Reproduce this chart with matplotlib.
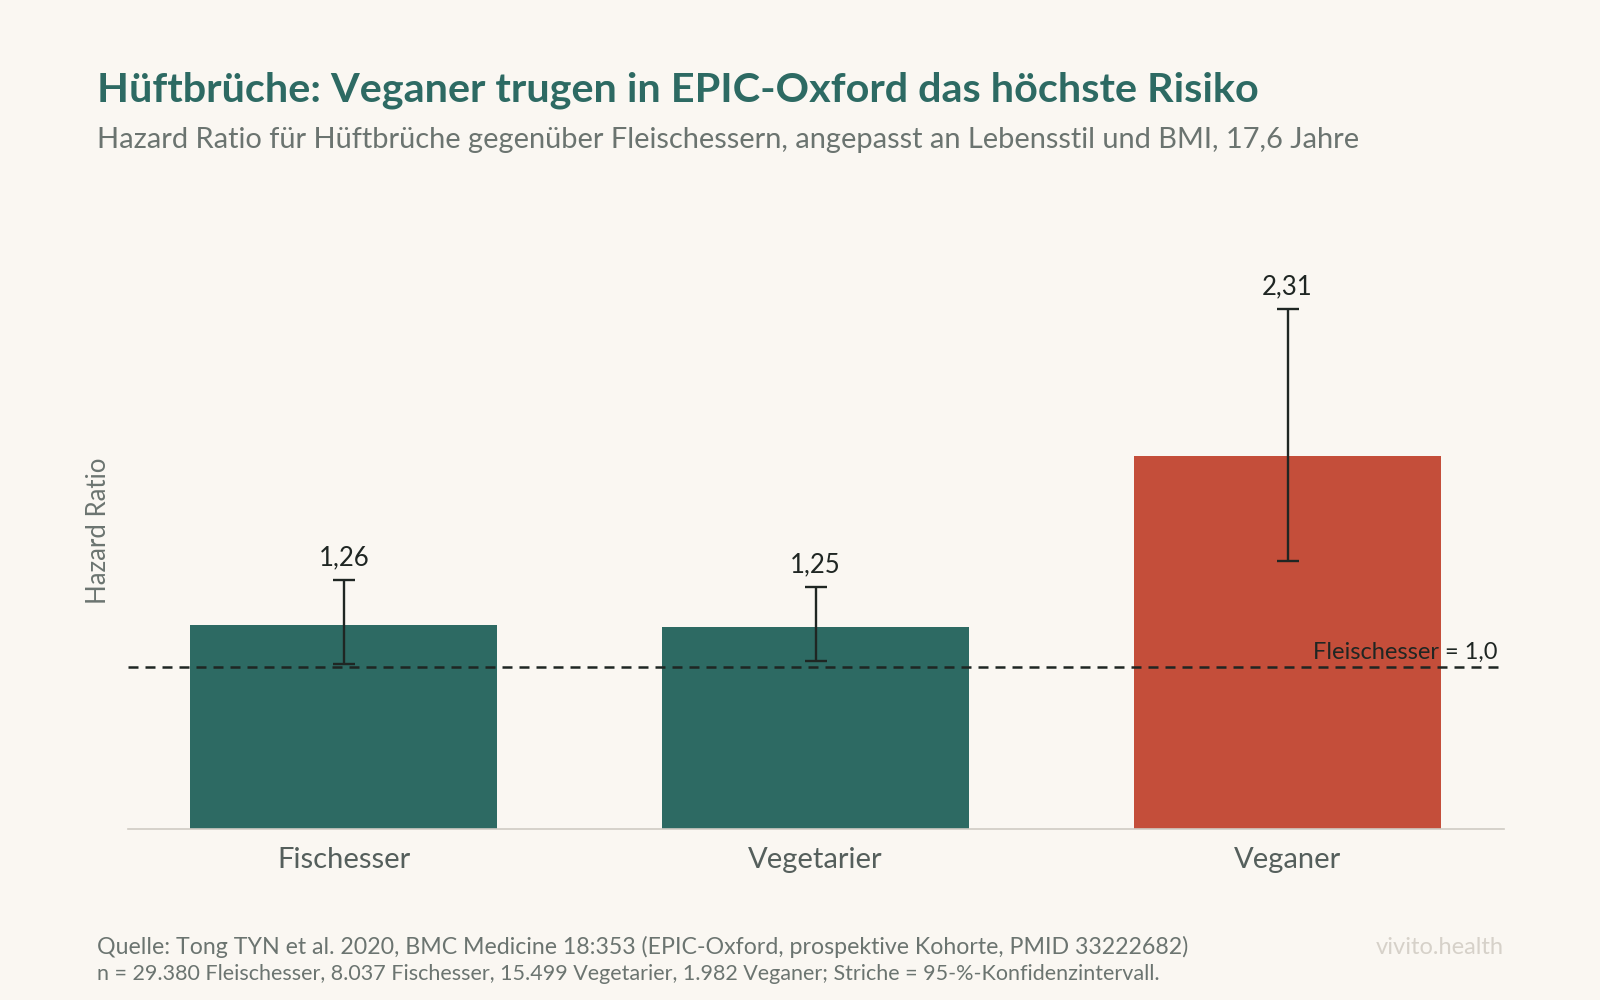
import numpy as np
import matplotlib.pyplot as plt

plt.rcParams['font.family'] = ['Lato', 'DejaVu Sans']

# Daten: Tong TYN et al. 2020, EPIC-Oxford
gruppen = ['Fischesser', 'Vegetarier', 'Veganer']
hr = [1.26, 1.25, 2.31]
ci_low = [1.02, 1.04, 1.66]
ci_high = [1.54, 1.50, 3.22]
hr_labels = ['1,26', '1,25', '2,31']

bg = '#faf7f2'
teal = '#2d6a63'
red = '#c44e3a'
dark = '#1f2623'
grey = '#6b7470'

fig = plt.figure(figsize=(16, 10), dpi=100, facecolor=bg)
ax = fig.add_axes([0.0798, 0.1714, 0.860, 0.5965])
ax.set_facecolor(bg)

x = np.arange(len(gruppen))
colors = [teal, teal, red]
ax.bar(x, hr, width=0.65, color=colors, zorder=2)

err = [np.array(hr) - np.array(ci_low), np.array(ci_high) - np.array(hr)]
ax.errorbar(x, hr, yerr=err, fmt='none', ecolor=dark, elinewidth=1.7,
            capsize=8, capthick=1.7, zorder=3)

for xi, top, lab in zip(x, ci_high, hr_labels):
    ax.annotate(lab, (xi, top), xytext=(0, 7), textcoords='offset points',
                ha='center', va='bottom', fontsize=18.5, color=dark)

ax.axhline(1.0, color=dark, linestyle=(0, (4, 2.8)), linewidth=1.8, zorder=4)
ax.annotate('Fleischesser = 1,0', (2.445, 1.0), xytext=(0, 3), textcoords='offset points',
            ha='right', va='bottom', fontsize=17, color=dark, zorder=5)

ax.set_xlim(-0.458, 2.458)
ax.set_ylim(0, 3.7)
ax.set_xticks(x)
ax.set_xticklabels(gruppen, fontsize=21, color='#555f5c')
ax.tick_params(axis='x', length=0, pad=13)
ax.set_yticks([])
for s in ['top', 'right', 'left']:
    ax.spines[s].set_visible(False)
ax.spines['bottom'].set_color('#cfcbc4')
ax.spines['bottom'].set_linewidth(1.2)
ax.set_ylabel('Hazard Ratio', fontsize=18.5, color=grey, labelpad=12)

fig.text(0.0605, 0.910, 'Hüftbrüche: Veganer trugen in EPIC-Oxford das höchste Risiko',
         fontsize=29.8, fontweight='bold', color=teal, va='center')
fig.text(0.0605, 0.860, 'Hazard Ratio für Hüftbrüche gegenüber Fleischessern, angepasst an Lebensstil und BMI, 17,6 Jahre',
         fontsize=20.9, color=grey, va='center')

fig.text(0.0605, 0.053, 'Quelle: Tong TYN et al. 2020, BMC Medicine 18:353 (EPIC-Oxford, prospektive Kohorte, PMID 33222682)',
         fontsize=16.7, color=grey, va='center')
fig.text(0.0605, 0.026, 'n = 29.380 Fleischesser, 8.037 Fischesser, 15.499 Vegetarier, 1.982 Veganer; Striche = 95-%-Konfidenzintervall.',
         fontsize=15.5, color=grey, va='center')
fig.text(0.94, 0.053, 'vivito.health', fontsize=17, color='#d6d1c9', va='center', ha='right')

fig.savefig('out.png', dpi=100, facecolor=bg)
